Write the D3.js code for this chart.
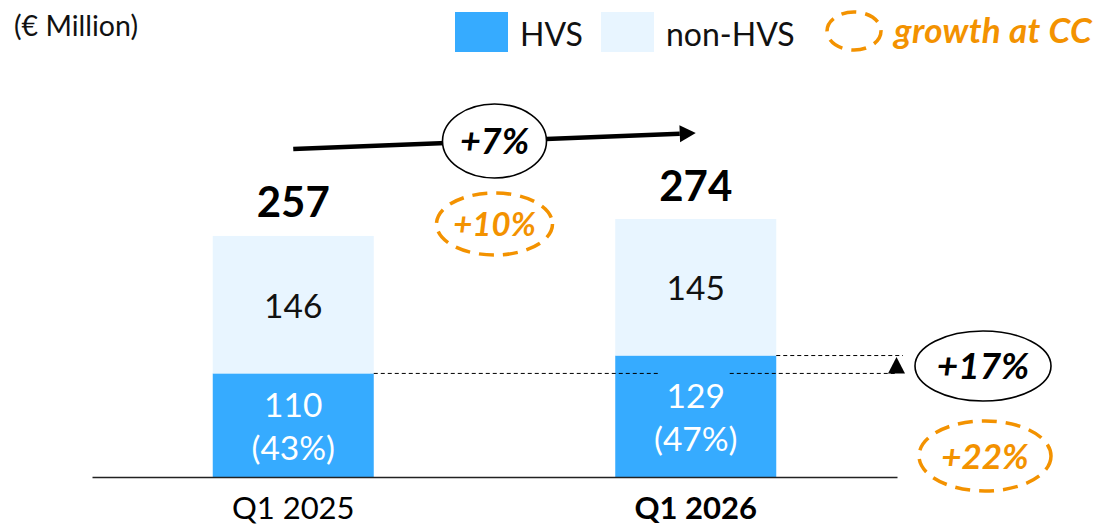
<!DOCTYPE html>
<html><head><meta charset="utf-8">
<script src="https://cdn.jsdelivr.net/npm/d3@7"></script>
<style>
body{margin:0;background:#fff;}
svg{display:block;font-family:Lato,'Noto Sans',sans-serif;}
</style>
</head><body>
<svg id="c" width="1099" height="527"></svg>
<script>
// ---- data ----
const categories = ["Q1 2025", "Q1 2026"];
const hvs = [110, 129];
const nonHvs = [146, 145];
const totals = [257, 274];
const growthTotal = "+7%";
const growthTotalCC = "+10%";
const growthHvs = "+17%";
const growthHvsCC = "+22%";
const legendLabels = ["HVS", "non-HVS", "growth at CC"];
const unitLabel = "(€ Million)";

// ---- style ----
const BLUE = "#36ABFF", LIGHT = "#E8F5FF", ORANGE = "#F39200", INK = "#000";
const svg = d3.select("#c");

const x = d3.scaleBand().domain(categories).range([92, 897]).padding(0);
const bw = x.bandwidth() * 0.4;
const xc = c => x(c) + x.bandwidth() / 2;
const y = d3.scaleLinear().domain([0, d3.max(totals)]).range([477, 219]);

const rows = categories.map((c, i) => ({cat: c, hvs: hvs[i], nonHvs: nonHvs[i], total: totals[i]}));
const stack = d3.stack().keys(["hvs", "nonHvs"])(rows);
const colors = {hvs: BLUE, nonHvs: LIGHT};

// bars
svg.append("g").selectAll("g").data(stack).join("g")
  .attr("fill", s => colors[s.key])
  .selectAll("rect").data(s => s).join("rect")
  .attr("x", d => xc(d.data.cat) - bw / 2)
  .attr("width", bw)
  .attr("y", d => y(d[1]))
  .attr("height", d => y(d[0]) - y(d[1]));

// axis
const ax = svg.append("g").attr("transform", `translate(0,${y(0)})`)
  .call(d3.axisBottom(x).tickSize(0).tickSizeOuter(0));
ax.select(".domain").attr("stroke", "#222").attr("stroke-width", 1.6);
ax.selectAll(".tick text")
  .attr("y", 42).attr("dy", 0)
  .attr("fill", INK)
  .style("font-family", "Lato,'Noto Sans',sans-serif")
  .style("font-size", "31px")
  .style("font-weight", (d, i) => i === 1 ? 700 : 400);

// dashed comparison lines
const yH0 = y(hvs[0]), yH1 = y(hvs[1]);
const b1r = xc(categories[0]) + bw / 2, b2r = xc(categories[1]) + bw / 2;
const dashG = svg.append("g").attr("stroke", "#000").attr("stroke-width", 1).attr("stroke-dasharray", "4,3");
dashG.append("line").attr("x1", b1r).attr("x2", xc(categories[1]) - 36).attr("y1", yH0).attr("y2", yH0);
dashG.append("line").attr("x1", xc(categories[1]) + 34).attr("x2", 897).attr("y1", yH0).attr("y2", yH0);
dashG.append("line").attr("x1", b2r).attr("x2", 903).attr("y1", yH1).attr("y2", yH1);
// small up arrow head
svg.append("path")
  .attr("d", `M896.5,${yH1 + 1.5}L905,${yH0}L888,${yH0}Z`)
  .attr("fill", "#000");

// segment labels
const segLab = svg.append("g").attr("text-anchor", "middle").style("font-size", "33.5px");
rows.forEach((r, i) => {
  const cx = xc(r.cat);
  const nTop = y(r.hvs + r.nonHvs), nBot = y(r.hvs);
  segLab.append("text").attr("x", cx).attr("y", (nTop + nBot) / 2 + 13).attr("fill", "#111").text(r.nonHvs);
  const hc = (y(r.hvs) + y(0)) / 2;
  segLab.append("text").attr("x", cx).attr("y", hc - 8.5).attr("fill", "#fff").text(r.hvs);
  segLab.append("text").attr("x", cx).attr("y", hc + 35).attr("fill", "#fff")
    .text("(" + Math.round(r.hvs / r.total * 100) + "%)");
});

// totals
svg.append("g").attr("text-anchor", "middle").selectAll("text").data(rows).join("text")
  .attr("x", d => xc(d.cat))
  .attr("y", d => y(d.total) - 18)
  .attr("fill", INK)
  .style("font-size", "42px").style("font-weight", 700)
  .text(d => d.total);

// growth arrow
const ax1 = xc(categories[0]), ay1 = y(totals[0]) - 86;
const ax2 = xc(categories[1]), ay2 = y(totals[1]) - 86;
const ang = Math.atan2(ay2 - ay1, ax2 - ax1);
const headL = 16, headW = 8.5;
const bx = ax2 - headL * Math.cos(ang), by = ay2 - headL * Math.sin(ang);
svg.append("line").attr("x1", ax1).attr("y1", ay1).attr("x2", bx).attr("y2", by)
  .attr("stroke", "#000").attr("stroke-width", 4.5);
svg.append("path")
  .attr("d", `M${ax2},${ay2}L${bx - headW * Math.sin(ang)},${by + headW * Math.cos(ang)}L${bx + headW * Math.sin(ang)},${by - headW * Math.cos(ang)}Z`)
  .attr("fill", "#000");

const mx = (ax1 + ax2) / 2, my = (ay1 + ay2) / 2;

function bubble(cx, cy, rx, ry, label, size, dashed) {
  const g = svg.append("g");
  g.append("ellipse").attr("cx", cx).attr("cy", cy).attr("rx", rx).attr("ry", ry)
    .attr("fill", dashed ? "none" : "#fff")
    .attr("stroke", dashed ? ORANGE : "#000")
    .attr("stroke-width", dashed ? 3.5 : 1.6)
    .attr("stroke-dasharray", dashed ? "15,9" : null);
  g.append("text").attr("x", cx).attr("y", cy + size * 0.36)
    .attr("text-anchor", "middle")
    .attr("fill", dashed ? ORANGE : "#000")
    .style("font-size", size + "px").style("font-weight", 700).style("font-style", "italic")
    .text(label);
}
bubble(mx, my, 52, 37, growthTotal, 36, false);
bubble(mx, my + 83, 58, 31, growthTotalCC, 33, true);
const hy = (yH0 + yH1) / 2;
bubble(983, hy + 1.5, 68, 35, growthHvs, 37, false);
bubble(985, hy + 91.5, 66, 35, growthHvsCC, 35, true);

// unit label
svg.append("text").attr("x", 14).attr("y", 36).attr("fill", "#111")
  .style("font-size", "28.5px").text(unitLabel);

// legend
const lg = svg.append("g");
lg.append("rect").attr("x", 455).attr("y", 12).attr("width", 53).attr("height", 40).attr("fill", BLUE);
lg.append("text").attr("x", 520).attr("y", 46).attr("fill", "#111").style("font-size", "32px").text(legendLabels[0]);
lg.append("rect").attr("x", 601).attr("y", 12).attr("width", 53).attr("height", 40).attr("fill", LIGHT);
lg.append("text").attr("x", 666).attr("y", 46).attr("fill", "#111").style("font-size", "32px").text(legendLabels[1]);
lg.append("ellipse").attr("cx", 854).attr("cy", 31).attr("rx", 27).attr("ry", 19)
  .attr("fill", "none").attr("stroke", ORANGE).attr("stroke-width", 3.5).attr("stroke-dasharray", "15,9");
lg.append("text").attr("x", 894).attr("y", 43).attr("fill", ORANGE)
  .style("font-size", "35px").style("font-weight", 700).style("font-style", "italic")
  .style("letter-spacing", "0.3px").text(legendLabels[2]);
</script>
</body></html>
